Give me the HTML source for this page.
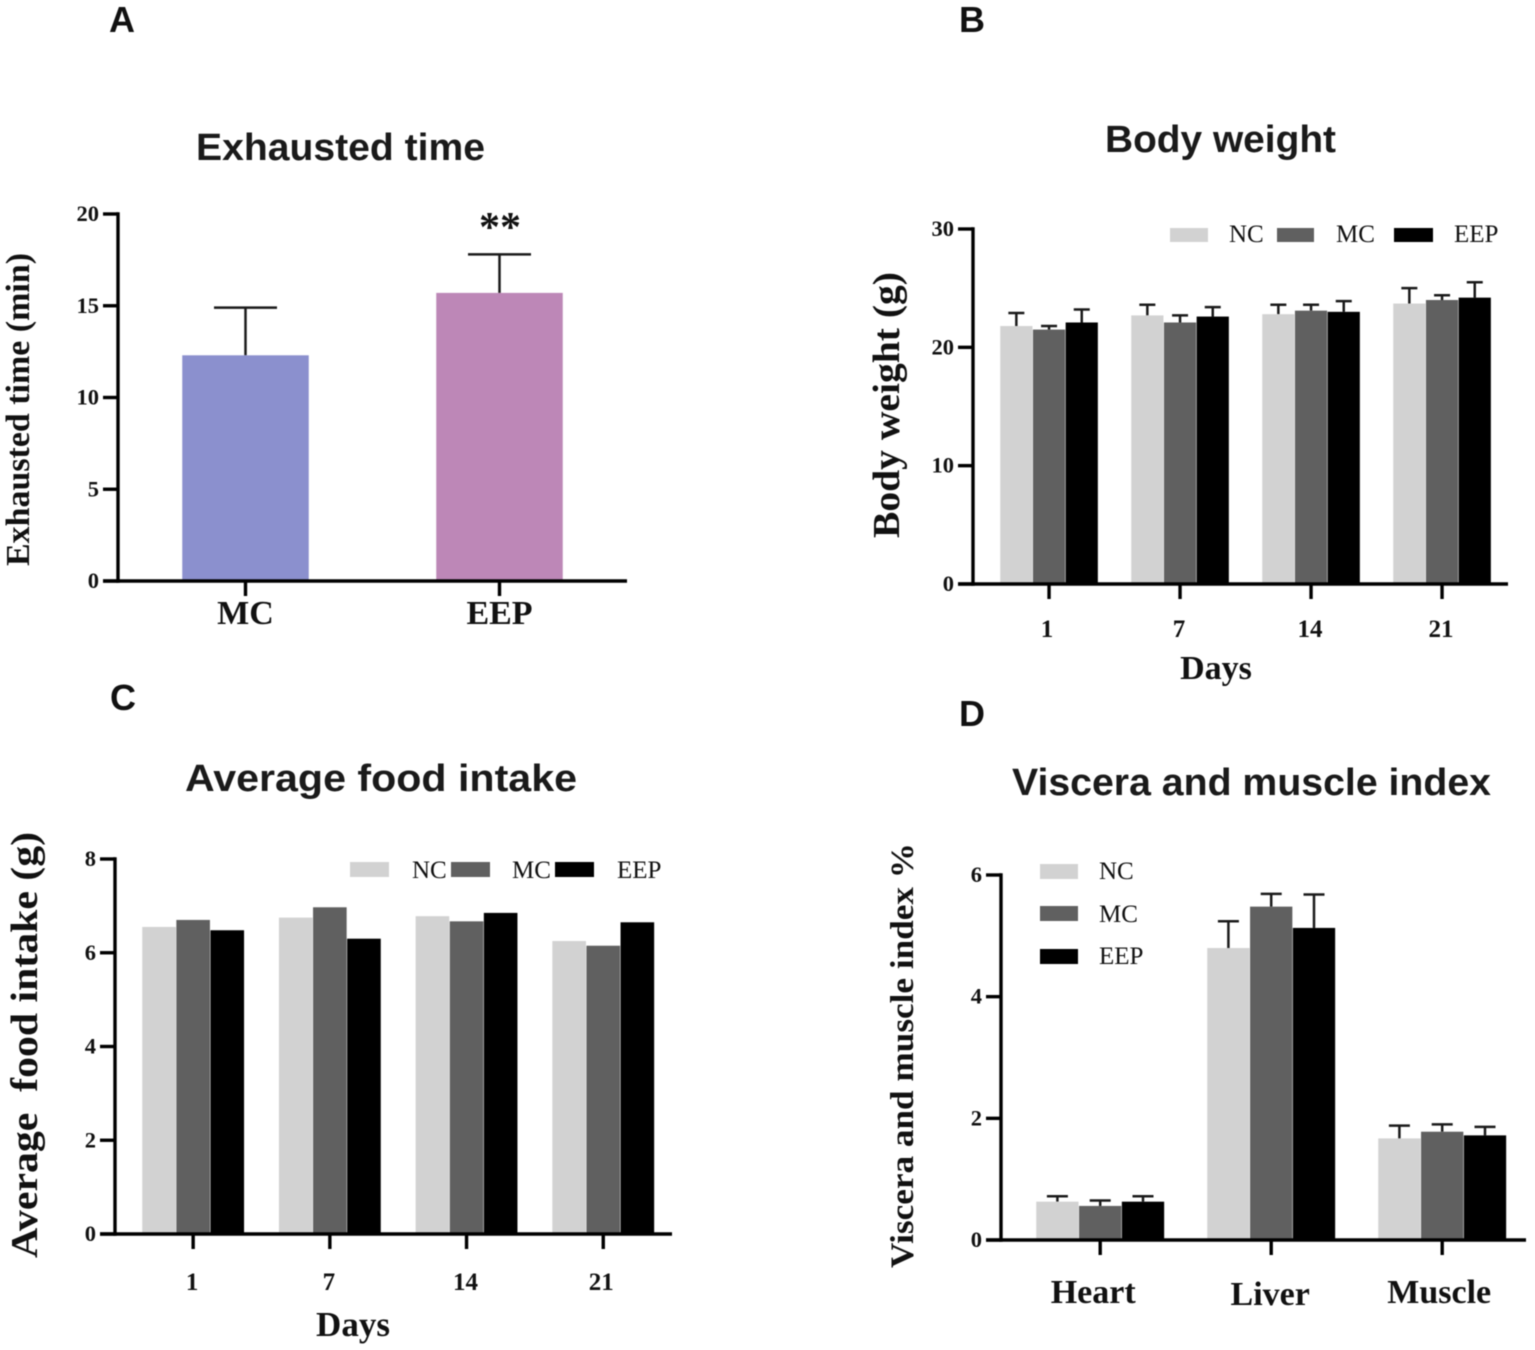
<!DOCTYPE html>
<html lang="en">
<head>
<meta charset="utf-8">
<title>Exercise endurance panels</title>
<style>
html,body{margin:0;padding:0;background:#fff;}
svg{display:block;filter:blur(0.4px);}
.letter{font:bold 36px "Liberation Sans",sans-serif;fill:#111;}
.title{font:bold 38px "Liberation Sans",sans-serif;fill:#1a1a1a;}
.serif{font-family:"Liberation Serif",serif;fill:#111;}
.b{font-weight:bold;}
</style>
</head>
<body>
<svg id="figure" xmlns="http://www.w3.org/2000/svg" width="1535" height="1350" viewBox="0 0 1535 1350">
<rect width="1535" height="1350" fill="#ffffff"/>

<g id="panel-a">
<text class="letter" x="109" y="32">A</text>
<text class="title" x="196" y="160" textLength="289" lengthAdjust="spacingAndGlyphs">Exhausted time</text>
<text class="serif b" transform="translate(29,566) rotate(-90)" font-size="34" textLength="313" lengthAdjust="spacingAndGlyphs">Exhausted time (min)</text>
<text class="serif b" x="500" y="241" font-size="42" text-anchor="middle">**</text>
</g>

<g id="panel-b">
<text class="letter" x="959" y="32">B</text>
<text class="title" x="1105" y="152" textLength="231" lengthAdjust="spacingAndGlyphs">Body weight</text>
<text class="serif b" transform="translate(899,538) rotate(-90)" font-size="38" textLength="266" lengthAdjust="spacingAndGlyphs">Body weight (g)</text>
<text class="serif b" x="1216" y="679" font-size="34" text-anchor="middle">Days</text>
<rect x="1170" y="228" width="38" height="14" fill="#d2d2d2"/>
<text class="serif" x="1229" y="242" font-size="25">NC</text>
<rect x="1277" y="228" width="37" height="14" fill="#606060"/>
<text class="serif" x="1336" y="242" font-size="25">MC</text>
<rect x="1394" y="228" width="39" height="14" fill="#000000"/>
<text class="serif" x="1454" y="242" font-size="25">EEP</text>
</g>

<g id="panel-c">
<text class="letter" x="110" y="710">C</text>
<text class="title" x="185" y="791" textLength="392" lengthAdjust="spacingAndGlyphs">Average food intake</text>
<text class="serif b" transform="translate(37,1258) rotate(-90)" font-size="38" textLength="426" lengthAdjust="spacingAndGlyphs" xml:space="preserve">Average  food intake (g)</text>
<text class="serif b" x="353" y="1336" font-size="35" text-anchor="middle">Days</text>
<rect x="350" y="862" width="39" height="15" fill="#d2d2d2"/>
<text class="serif" x="412" y="878" font-size="25">NC</text>
<rect x="451" y="862" width="39" height="15" fill="#606060"/>
<text class="serif" x="512" y="878" font-size="25">MC</text>
<rect x="555" y="862" width="39" height="15" fill="#000000"/>
<text class="serif" x="617" y="878" font-size="25">EEP</text>
</g>

<g id="panel-d">
<text class="letter" x="959" y="726">D</text>
<text class="title" x="1012" y="795" textLength="479" lengthAdjust="spacingAndGlyphs">Viscera and muscle index</text>
<text class="serif b" transform="translate(913,1268) rotate(-90)" font-size="33" textLength="425" lengthAdjust="spacingAndGlyphs">Viscera and muscle index %</text>
<rect x="1040" y="864" width="38" height="15" fill="#d2d2d2"/>
<text class="serif" x="1099" y="879" font-size="25">NC</text>
<rect x="1040" y="906" width="38" height="15" fill="#606060"/>
<text class="serif" x="1099" y="922" font-size="25">MC</text>
<rect x="1040" y="949" width="38" height="15" fill="#000000"/>
<text class="serif" x="1099" y="964" font-size="25">EEP</text>
</g>
</svg>

<script>
// ---- Panel A data ----
const exhaustedCategories = ['MC', 'EEP'];
const exhaustedValues = [12.3, 15.7];
const exhaustedUpper = [14.9, 17.8];
const exhaustedTicks = [0, 5, 10, 15, 20];

// ---- Panel B data ----
const weightCategories = ['1', '7', '14', '21'];
const weightNC = [21.8, 22.7, 22.8, 23.7];
const weightMC = [21.5, 22.1, 23.1, 24.0];
const weightEEP = [22.1, 22.6, 23.0, 24.2];
const weightNCUpper = [22.9, 23.6, 23.6, 25.0];
const weightMCUpper = [21.8, 22.7, 23.6, 24.4];
const weightEEPUpper = [23.2, 23.4, 23.9, 25.5];
const weightTicks = [0, 10, 20, 30];

// ---- Panel C data ----
const foodCategories = ['1', '7', '14', '21'];
const foodNC = [6.55, 6.75, 6.78, 6.25];
const foodMC = [6.7, 6.97, 6.67, 6.15];
const foodEEP = [6.48, 6.3, 6.85, 6.65];
const foodTicks = [0, 2, 4, 6, 8];

// ---- Panel D data ----
const indexCategories = ['Heart', 'Liver', 'Muscle'];
const indexNC = [0.63, 4.8, 1.67];
const indexMC = [0.56, 5.48, 1.78];
const indexEEP = [0.63, 5.13, 1.72];
const indexNCUpper = [0.72, 5.24, 1.88];
const indexMCUpper = [0.65, 5.69, 1.9];
const indexEEPUpper = [0.72, 5.68, 1.86];
const indexTicks = [0, 2, 4, 6];

const SVGNS = 'http://www.w3.org/2000/svg';
const GREY = '#d2d2d2', DARK = '#606060', BLACK = '#000000';

function make(parent, tag, attrs, txt) {
  const el = document.createElementNS(SVGNS, tag);
  for (const k in attrs) el.setAttribute(k, attrs[k]);
  if (txt !== undefined) el.textContent = txt;
  parent.appendChild(el);
  return el;
}

function drawBarsLayer(parent, cfg, categories, series) {
  const yScale = v => cfg.y0 - (v / cfg.vMax) * (cfg.y0 - cfg.yTop);
  const groupStart = i => cfg.first + i * cfg.pitch;
  const groupCenter = i => groupStart(i) + cfg.barW * series.length / 2;

  categories.forEach((cat, i) => {
    series.forEach((s, j) => {
      const x = groupStart(i) + j * cfg.barW;
      const top = yScale(s.values[i]);
      const cx = x + cfg.barW / 2;
      if (s.upper) {
        const yU = yScale(s.upper[i]);
        const stem = make(parent, 'line', {x1: cx, x2: cx, y1: yU, y2: top, stroke: '#1a1a1a', 'stroke-width': cfg.errW});
        
        
        const cap = make(parent, 'line', {x1: cx - cfg.cap / 2, x2: cx + cfg.cap / 2, y1: yU, y2: yU, stroke: '#1a1a1a', 'stroke-width': cfg.errW});
        
        
      }
      const colour = s.colors ? s.colors[i] : s.color;
      const bar = make(parent, 'rect', {x: x + 0.25, y: top, width: cfg.barW - 0.5, height: cfg.y0 - top, fill: colour});
      
      
    });
    const cx = groupCenter(i);
    const tick = make(parent, 'line', {x1: cx, x2: cx, y1: cfg.y0, y2: cfg.y0 + cfg.xTick, stroke: '#000', 'stroke-width': 3.4});
    
    
    const dx = cfg.labelDx ? cfg.labelDx[i] : 0;
    const dy = cfg.labelDy ? cfg.labelDy[i] : 0;
    const lab = make(parent, 'text', {x: cx + dx, y: cfg.labelY + dy, 'text-anchor': 'middle', 'font-size': cfg.labelSize, 'font-weight': 'bold', 'font-family': '"Liberation Serif",serif', fill: '#111'}, cat);
    
    
  });

  const yAxis = make(parent, 'line', {x1: cfg.x0, x2: cfg.x0, y1: cfg.yTop - 1.7, y2: cfg.y0 + 1.7, stroke: '#000', 'stroke-width': 3.4});
  
  
  const xAxis = make(parent, 'line', {x1: cfg.x0 - cfg.yTick, x2: cfg.xEnd, y1: cfg.y0, y2: cfg.y0, stroke: '#000', 'stroke-width': 3.4});
  
  

  cfg.ticks.forEach(t => {
    const y = yScale(t);
    const tick = make(parent, 'line', {x1: cfg.x0 - cfg.yTick, x2: cfg.x0, y1: y, y2: y, stroke: '#000', 'stroke-width': 3.4});
    
    
    const lab = make(parent, 'text', {x: cfg.x0 - cfg.yTick - 4, y: y + 7, 'text-anchor': 'end', 'font-size': 22.5, 'font-weight': 'bold', 'font-family': '"Liberation Serif",serif', fill: '#111'}, String(t));
    
    
  });
}

drawBarsLayer(document.getElementById('panel-a'),
  {x0: 118, xEnd: 627, y0: 581, yTop: 214, vMax: 20, ticks: exhaustedTicks, first: 182, pitch: 254, barW: 127, errW: 2.5, cap: 63, xTick: 15, yTick: 15, labelY: 624, labelSize: 34},
  exhaustedCategories,
  [{values: exhaustedValues, upper: exhaustedUpper, colors: ['#8b90ce', '#bd87b7']}]);

drawBarsLayer(document.getElementById('panel-b'),
  {x0: 973, xEnd: 1508, y0: 584, yTop: 229, vMax: 30, ticks: weightTicks, first: 1000, pitch: 131, barW: 32.7, errW: 2.5, cap: 16, xTick: 15, yTick: 15, labelY: 637, labelSize: 25, labelDx: [-2, -1, -1, -1]},
  weightCategories,
  [{values: weightNC, upper: weightNCUpper, color: GREY},
   {values: weightMC, upper: weightMCUpper, color: DARK},
   {values: weightEEP, upper: weightEEPUpper, color: BLACK}]);

drawBarsLayer(document.getElementById('panel-c'),
  {x0: 115, xEnd: 672, y0: 1234, yTop: 859, vMax: 8, ticks: foodTicks, first: 142, pitch: 136.7, barW: 34.1, errW: 2.5, cap: 16, xTick: 15, yTick: 15, labelY: 1290, labelSize: 25, labelDx: [-1, -1, -1, -2]},
  foodCategories,
  [{values: foodNC, color: GREY},
   {values: foodMC, color: DARK},
   {values: foodEEP, color: BLACK}]);

drawBarsLayer(document.getElementById('panel-d'),
  {x0: 1001, xEnd: 1526, y0: 1240, yTop: 875, vMax: 6, ticks: indexTicks, first: 1036, pitch: 171, barW: 42.8, errW: 2.5, cap: 21, xTick: 15, yTick: 15, labelY: 1303, labelSize: 34, labelDx: [-7, -1, -3], labelDy: [0, 2, 0]},
  indexCategories,
  [{values: indexNC, upper: indexNCUpper, color: GREY},
   {values: indexMC, upper: indexMCUpper, color: DARK},
   {values: indexEEP, upper: indexEEPUpper, color: BLACK}]);
</script>
</body>
</html>
